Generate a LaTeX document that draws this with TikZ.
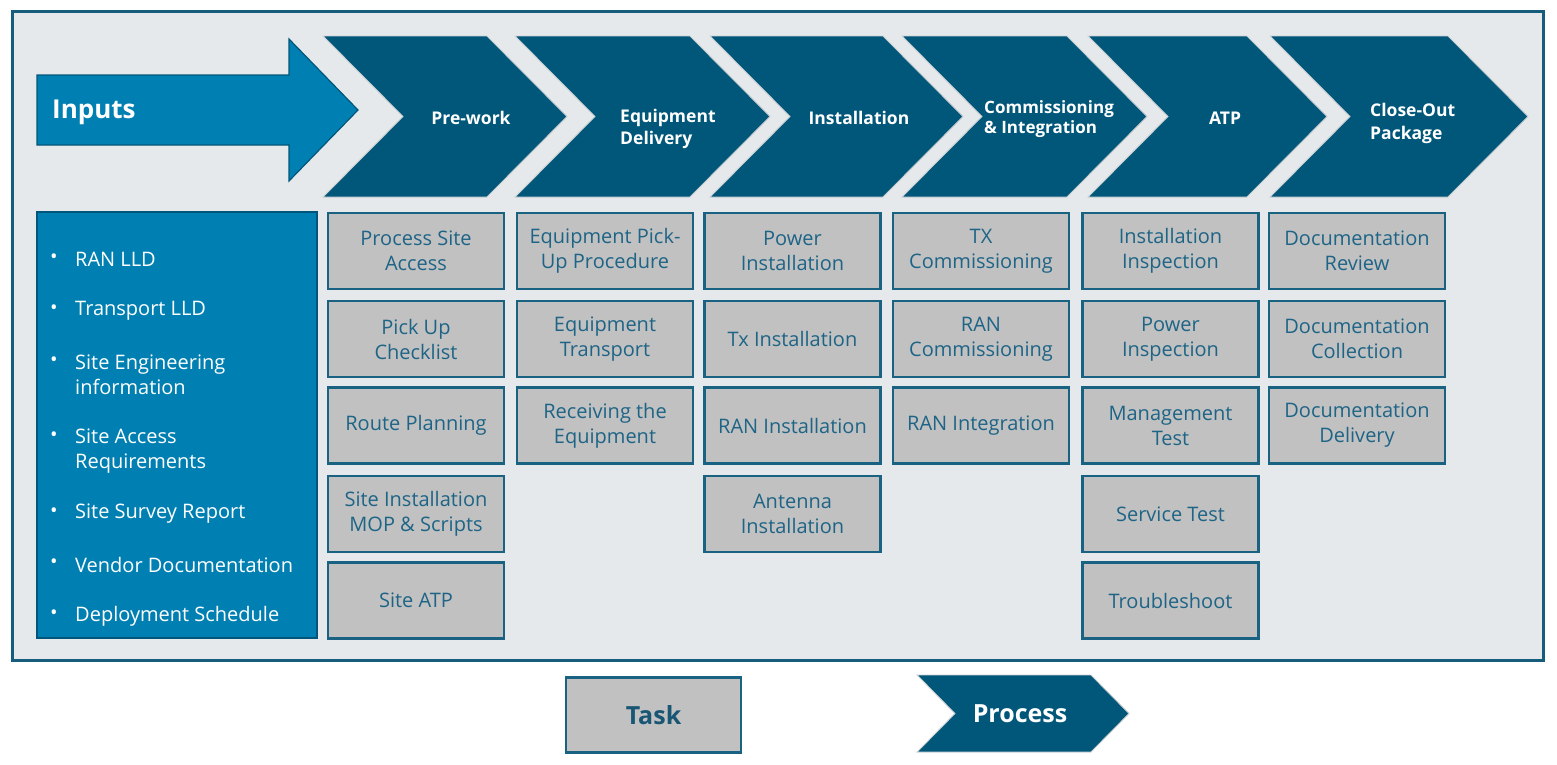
\documentclass[tikz,border=0pt]{standalone}
\usepackage{fontspec}
\setmainfont{Open Sans}
\definecolor{frameC}{RGB}{22,92,124}
\definecolor{frameF}{RGB}{230,233,235}
\definecolor{chevC}{RGB}{0,87,122}
\definecolor{chevE}{RGB}{205,208,210}
\definecolor{inBlue}{RGB}{0,128,178}
\definecolor{inEdge}{RGB}{0,86,122}
\definecolor{taskF}{RGB}{193,193,193}
\definecolor{taskB}{RGB}{26,98,130}
\definecolor{taskT}{RGB}{30,100,134}
\definecolor{legT}{RGB}{24,86,116}
\tikzset{
  chevshape/.style={fill=chevC, draw=chevE, line width=0.9},
  chevlabel/.style={text=white, font=\bfseries\fontsize{17.5}{21}\selectfont, inner sep=0, align=left},
  taskbox/.style={draw=taskB, fill=taskF, line width=2.2, minimum width=176, minimum height=76,
    text=taskT, font=\fontsize{20}{25}\selectfont, align=center, inner sep=0},
  inputitem/.style={text=white, font=\fontsize{20}{25}\selectfont, anchor=west, align=left, inner sep=0},
  bulletmark/.style={text=white, font=\fontsize{20}{20}\selectfont, inner sep=0}
}
\newcommand\chevpath[6]{% left x, top-right x, top y, bottom y, depth, style
  \path[#6] (#1,#3) -- (#2,#3) -- ({#2+#5},{(#3+#4)/2}) -- (#2,#4) -- (#1,#4) -- ({#1+#5},{(#3+#4)/2}) -- cycle;}
\begin{document}
\begin{tikzpicture}[x=1pt,y=-1pt]
\useasboundingbox (0,0) rectangle (1557,764);
\fill[white] (0,0) rectangle (1557,764);
% frame
\draw[frameC, line width=3, fill=frameF] (12.5,11) rectangle (1543,660.5);
% inputs arrow
\draw[fill=inBlue, draw=inEdge, line width=1.2] (37,75) -- (289,75) -- (289,39) -- (358,110) -- (289,181) -- (289,145) -- (37,145) -- cycle;
\node[text=white, font=\bfseries\fontsize{26}{30}\selectfont, anchor=west, inner sep=0] (inputs) at (52,112) {Inputs};
% chevrons
\chevpath{323}{487}{36}{197}{80}{chevshape}
\chevpath{515}{690}{36}{197}{80}{chevshape}
\chevpath{710}{883}{36}{197}{80}{chevshape}
\chevpath{902}{1067}{36}{197}{80}{chevshape}
\chevpath{1088}{1247}{36}{197}{80}{chevshape}
\chevpath{1270}{1448}{36}{197}{80}{chevshape}
\node[chevlabel] (p1) at (471,118) {Pre-work};
\node[chevlabel, anchor=west, font=\bfseries\fontsize{17.5}{22}\selectfont] (p2) at (620,129) {Equipment\\Delivery};
\node[chevlabel] (p3) at (859,118) {Installation};
\node[chevlabel, anchor=west, font=\bfseries\fontsize{17}{20}\selectfont] (p4) at (984,119) {Commissioning\\\& Integration};
\node[chevlabel] (p5) at (1225,118) {ATP};
\node[chevlabel, anchor=west, font=\bfseries\fontsize{17.5}{23}\selectfont] (p6) at (1370,123) {Close-Out\\Package};
% inputs box
\node[draw=inEdge, fill=inBlue, line width=2.8, minimum width=280, minimum height=426, inner sep=0] (inbox) at (177,425) {};
\foreach \y in {259,310,362,437,513,564,615} {\node[bulletmark] at (54,\y) {•};}
\node[inputitem] (i1) at (75,259) {RAN LLD};
\node[inputitem] (i2) at (75,311) {Transport LLD};
\node[inputitem] (i3) at (75,375) {Site Engineering\\information};
\node[inputitem] (i4) at (75,451) {Site Access\\Requirements};
\node[inputitem] (i5) at (75,514) {Site Survey Report};
\node[inputitem] (i6) at (75,565) {Vendor Documentation};
\node[inputitem] (i7) at (75,616) {Deployment Schedule};
% column 1
\node[taskbox] (a1) at (416,251) {Process Site\\Access};
\node[taskbox] (a2) at (416,339) {Pick Up\\Checklist};
\node[taskbox] (a3) at (416,425.5) {Route Planning};
\node[taskbox] (a4) at (416,514) {Site Installation\\MOP \& Scripts};
\node[taskbox] (a5) at (416,600.5) {Site ATP};
% column 2
\node[taskbox] (b1) at (605,251) {Equipment Pick-\\Up Procedure};
\node[taskbox] (b2) at (605,339) {Equipment\\Transport};
\node[taskbox] (b3) at (605,425.5) {Receiving the\\Equipment};
% column 3
\node[taskbox] (c1) at (792.5,251) {Power\\Installation};
\node[taskbox] (c2) at (792.5,339) {Tx Installation};
\node[taskbox] (c3) at (792.5,425.5) {RAN Installation};
\node[taskbox] (c4) at (792.5,514) {Antenna\\Installation};
% column 4
\node[taskbox] (d1) at (981,251) {TX\\Commissioning};
\node[taskbox] (d2) at (981,339) {RAN\\Commissioning};
\node[taskbox] (d3) at (981,425.5) {RAN Integration};
% column 5
\node[taskbox] (e1) at (1170.5,251) {Installation\\Inspection};
\node[taskbox] (e2) at (1170.5,339) {Power\\Inspection};
\node[taskbox] (e3) at (1170.5,425.5) {Management\\Test};
\node[taskbox] (e4) at (1170.5,514) {Service Test};
\node[taskbox] (e5) at (1170.5,600.5) {Troubleshoot};
% column 6
\node[taskbox] (f1) at (1357,251) {Documentation\\Review};
\node[taskbox] (f2) at (1357,339) {Documentation\\Collection};
\node[taskbox] (f3) at (1357,425.5) {Documentation\\Delivery};
% legend
\node[taskbox, minimum width=175, minimum height=75, text=legT, font=\bfseries\fontsize{25}{30}\selectfont] (legtask) at (653.5,715) {Task};
\chevpath{917}{1091}{675}{752}{38}{chevshape}
\node[chevlabel, font=\bfseries\fontsize{25}{30}\selectfont] (legproc) at (1020,714) {Process};
\end{tikzpicture}
\end{document}
